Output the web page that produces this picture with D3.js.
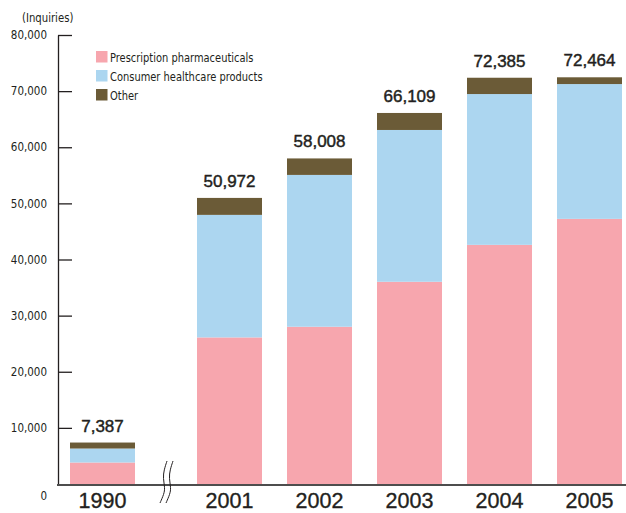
<!DOCTYPE html>
<html>
<head>
<meta charset="utf-8">
<script src="https://cdn.jsdelivr.net/npm/d3@7.9.0/dist/d3.min.js"></script>
<style>
  html, body { margin: 0; padding: 0; background: #fff; }
  svg { display: block; }
  .narrow { font-family: "DejaVu Sans Condensed", "Liberation Sans Narrow", sans-serif; }
  .big { font-family: "Liberation Sans", Arial, Helvetica, sans-serif; }
</style>
</head>
<body>
<svg id="chart" width="626" height="513"></svg>
<script>
// years and stacked values (inquiries)
const oldYears = ["1990"];
const newYears = ["2001", "2002", "2003", "2004", "2005"];
const prescription = [3830, 26120, 28020, 36030, 42610, 47240];
const consumer = [2490, 21830, 27050, 27050, 26870, 24020];
const other = [1067, 3022, 2938, 3029, 2905, 1204];
const totals = [7387, 50972, 58008, 66109, 72385, 72464];
const yTicks = [0, 10000, 20000, 30000, 40000, 50000, 60000, 70000, 80000];

const seriesKeys = ["prescription", "consumer", "other"];
const seriesLabels = ["Prescription pharmaceuticals", "Consumer healthcare products", "Other"];
const colors = ["#f7a6ae", "#acd6f0", "#6b5b37"];

const width = 626, height = 513;
const svg = d3.select("#chart");

const allYears = oldYears.concat(newYears);
const rows = allYears.map((year, i) => ({
    year,
    prescription: prescription[i],
    consumer: consumer[i],
    other: other[i],
    total: totals[i]
}));

// two band scales with a broken axis between 1990 and 2001
const xOld = d3.scaleBand()
    .domain(oldYears)
    .range([57.5, 147.5])
    .paddingInner(25 / 90)
    .paddingOuter(12.5 / 90);
const xNew = d3.scaleBand()
    .domain(newYears)
    .range([184.5, 634.5])
    .paddingInner(25 / 90)
    .paddingOuter(12.5 / 90);
const xPos = y => oldYears.includes(y) ? xOld(y) : xNew(y);
const bw = xNew.bandwidth();

const yScale = d3.scaleLinear()
    .domain([0, 80000])
    .range([484, 35]);

const axisX = 58;

// stacked bars
const stacked = d3.stack().keys(seriesKeys)(rows);

svg.append("g")
    .selectAll("g")
    .data(stacked)
    .join("g")
    .attr("fill", (d, i) => colors[i])
    .selectAll("rect")
    .data(d => d)
    .join("rect")
    .attr("x", d => xPos(d.data.year))
    .attr("y", d => yScale(d[1]))
    .attr("width", bw)
    .attr("height", d => yScale(d[0]) - yScale(d[1]));

// totals above bars
svg.append("g")
    .selectAll("text")
    .data(rows)
    .join("text")
    .attr("class", "big")
    .attr("x", d => xPos(d.year) + bw / 2)
    .attr("y", d => yScale(d.total) - 11)
    .attr("text-anchor", "middle")
    .attr("font-size", 17)
    .attr("fill", "#231f20")
    .attr("stroke", "#231f20")
    .attr("stroke-width", 0.45)
    .text(d => d3.format(",")(d.total));

// y axis, ticks pointing inward
const yAxisG = svg.append("g")
    .attr("transform", `translate(${axisX},0)`)
    .call(d3.axisLeft(yScale)
        .tickValues(yTicks)
        .tickFormat(d3.format(","))
        .tickSizeInner(-14)
        .tickSizeOuter(0)
        .tickPadding(11));
yAxisG.select(".domain").attr("stroke", "#231f20").attr("stroke-width", 1.3);
yAxisG.selectAll(".tick line").attr("stroke", "#231f20").attr("stroke-width", 1.3);
yAxisG.selectAll(".tick text")
    .attr("class", "narrow")
    .attr("font-size", 11.5)
    .attr("fill", "#231f20")
    .attr("dy", d => d === 0 ? "1.35em" : "0.32em");
yAxisG.selectAll(".tick").filter(d => d === 0).select("line").remove();

// x axis baseline
svg.append("line")
    .attr("x1", axisX - 1)
    .attr("x2", width)
    .attr("y1", yScale(0) + 1)
    .attr("y2", yScale(0) + 1)
    .attr("stroke", "#4d4d4d")
    .attr("stroke-width", 2.2);

// year labels
svg.append("g")
    .selectAll("text")
    .data(allYears)
    .join("text")
    .attr("class", "big")
    .attr("x", d => xPos(d) + bw / 2)
    .attr("y", 508)
    .attr("text-anchor", "middle")
    .attr("font-size", 21.5)
    .attr("fill", "#231f20")
    .attr("stroke", "#231f20")
    .attr("stroke-width", 0.35)
    .text(d => d);

// axis break mark
const breakX = (xOld.range()[1] + xNew.range()[0]) / 2 - 3;
const breakY = yScale(0);
const wave = d3.line().curve(d3.curveBasis);
const wavePts = [[4, -23], [1, -14], [0, -6], [2, 4], [1, 10], [-3, 19]];
[0, 6].forEach(off => {
    svg.append("path")
        .attr("d", wave(wavePts.map(p => [breakX + p[0] + off, breakY + p[1]])))
        .attr("fill", "none")
        .attr("stroke", "#231f20")
        .attr("stroke-width", 1);
});

// unit label (condensed horizontally)
svg.append("g")
    .attr("transform", "translate(22,22) scale(0.9,1)")
    .append("text")
    .attr("class", "narrow")
    .attr("font-size", 12.5)
    .attr("fill", "#231f20")
    .text("(Inquiries)");

// legend
const legend = svg.append("g").attr("transform", "translate(96,51)");
const items = legend.selectAll("g")
    .data(seriesLabels)
    .join("g")
    .attr("transform", (d, i) => `translate(0,${i * 19})`);
items.append("rect")
    .attr("width", 11.5)
    .attr("height", 11.5)
    .attr("fill", (d, i) => colors[i]);
items.append("g")
    .attr("transform", "translate(14,10.5) scale(0.88,1)")
    .append("text")
    .attr("class", "narrow")
    .attr("font-size", 12.5)
    .attr("fill", "#231f20")
    .text(d => d);
</script>
</body>
</html>
